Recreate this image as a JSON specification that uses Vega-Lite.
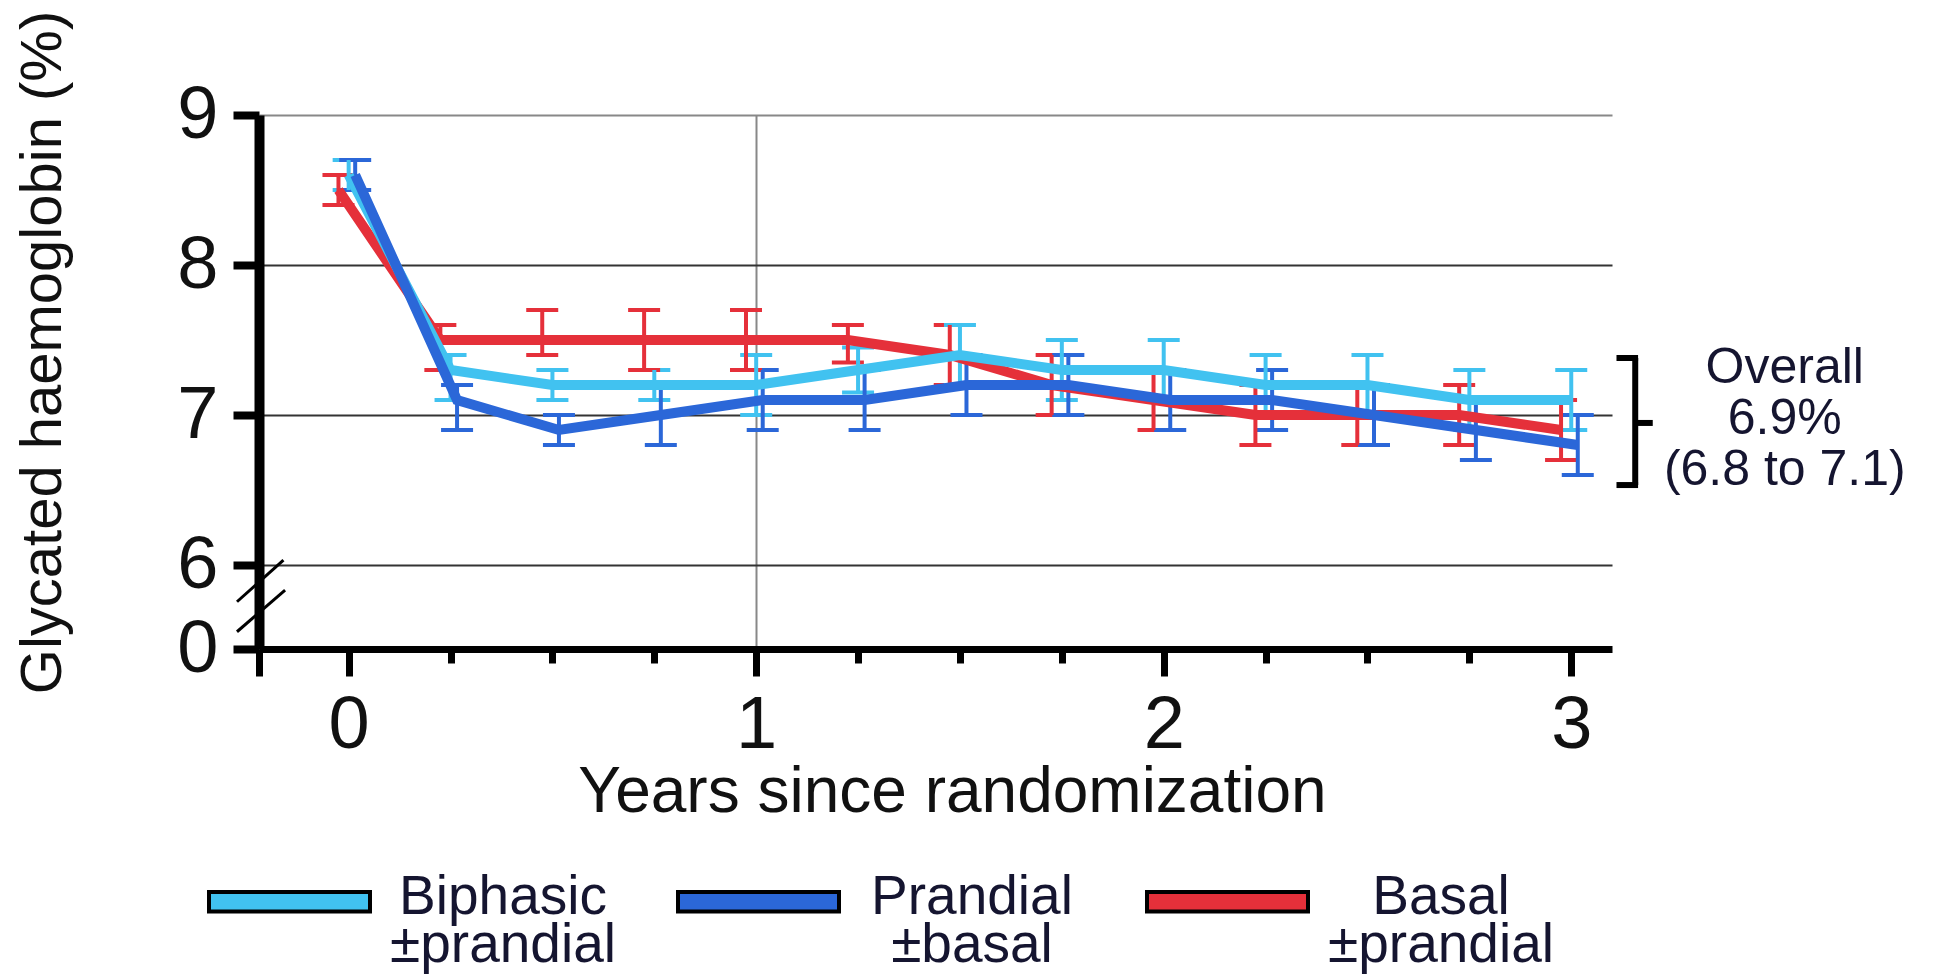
{
  "$schema": "https://vega.github.io/schema/vega-lite/v6.json",
  "autosize": "none",
  "width": 1353,
  "height": 534,
  "padding": {"left": 259, "top": 115, "right": 322, "bottom": 328},
  "background": "white",
  "config": {
    "font": "Liberation Sans",
    "view": {"stroke": null},
    "axis": {"labelColor": "#111", "titleColor": "#111", "titleFontWeight": "normal", "domainColor": "black", "tickColor": "black"}
  },
  "resolve": {"legend": {"color": "independent"}},
  "datasets": {
    "hba1c": [
      {"g": "Basal ±prandial", "t": -0.025, "m": 8.5, "lo": 8.4, "hi": 8.6},
      {"g": "Basal ±prandial", "t": 0.225, "m": 7.5, "lo": 7.3, "hi": 7.6},
      {"g": "Basal ±prandial", "t": 0.475, "m": 7.5, "lo": 7.4, "hi": 7.7},
      {"g": "Basal ±prandial", "t": 0.725, "m": 7.5, "lo": 7.3, "hi": 7.7},
      {"g": "Basal ±prandial", "t": 0.975, "m": 7.5, "lo": 7.3, "hi": 7.7},
      {"g": "Basal ±prandial", "t": 1.225, "m": 7.5, "lo": 7.35, "hi": 7.6},
      {"g": "Basal ±prandial", "t": 1.475, "m": 7.4, "lo": 7.2, "hi": 7.6},
      {"g": "Basal ±prandial", "t": 1.725, "m": 7.2, "lo": 7.0, "hi": 7.4},
      {"g": "Basal ±prandial", "t": 1.975, "m": 7.1, "lo": 6.9, "hi": 7.3},
      {"g": "Basal ±prandial", "t": 2.225, "m": 7.0, "lo": 6.8, "hi": 7.2},
      {"g": "Basal ±prandial", "t": 2.475, "m": 7.0, "lo": 6.8, "hi": 7.2},
      {"g": "Basal ±prandial", "t": 2.725, "m": 7.0, "lo": 6.8, "hi": 7.2},
      {"g": "Basal ±prandial", "t": 2.975, "m": 6.9, "lo": 6.7, "hi": 7.1},
      {"g": "Biphasic ±prandial", "t": 0, "m": 8.6, "lo": 8.5, "hi": 8.7},
      {"g": "Biphasic ±prandial", "t": 0.25, "m": 7.3, "lo": 7.1, "hi": 7.4},
      {"g": "Biphasic ±prandial", "t": 0.5, "m": 7.2, "lo": 7.1, "hi": 7.3},
      {"g": "Biphasic ±prandial", "t": 0.75, "m": 7.2, "lo": 7.1, "hi": 7.3},
      {"g": "Biphasic ±prandial", "t": 1, "m": 7.2, "lo": 7.0, "hi": 7.4},
      {"g": "Biphasic ±prandial", "t": 1.25, "m": 7.3, "lo": 7.15, "hi": 7.45},
      {"g": "Biphasic ±prandial", "t": 1.5, "m": 7.4, "lo": 7.2, "hi": 7.6},
      {"g": "Biphasic ±prandial", "t": 1.75, "m": 7.3, "lo": 7.1, "hi": 7.5},
      {"g": "Biphasic ±prandial", "t": 2, "m": 7.3, "lo": 7.1, "hi": 7.5},
      {"g": "Biphasic ±prandial", "t": 2.25, "m": 7.2, "lo": 7.0, "hi": 7.4},
      {"g": "Biphasic ±prandial", "t": 2.5, "m": 7.2, "lo": 7.0, "hi": 7.4},
      {"g": "Biphasic ±prandial", "t": 2.75, "m": 7.1, "lo": 6.9, "hi": 7.3},
      {"g": "Biphasic ±prandial", "t": 3, "m": 7.1, "lo": 6.9, "hi": 7.3},
      {"g": "Prandial ±basal", "t": 0.016, "m": 8.6, "lo": 8.5, "hi": 8.7},
      {"g": "Prandial ±basal", "t": 0.266, "m": 7.1, "lo": 6.9, "hi": 7.2},
      {"g": "Prandial ±basal", "t": 0.516, "m": 6.9, "lo": 6.8, "hi": 7.0},
      {"g": "Prandial ±basal", "t": 0.766, "m": 7.0, "lo": 6.8, "hi": 7.2},
      {"g": "Prandial ±basal", "t": 1.016, "m": 7.1, "lo": 6.9, "hi": 7.3},
      {"g": "Prandial ±basal", "t": 1.266, "m": 7.1, "lo": 6.9, "hi": 7.3},
      {"g": "Prandial ±basal", "t": 1.516, "m": 7.2, "lo": 7.0, "hi": 7.4},
      {"g": "Prandial ±basal", "t": 1.766, "m": 7.2, "lo": 7.0, "hi": 7.4},
      {"g": "Prandial ±basal", "t": 2.016, "m": 7.1, "lo": 6.9, "hi": 7.3},
      {"g": "Prandial ±basal", "t": 2.266, "m": 7.1, "lo": 6.9, "hi": 7.3},
      {"g": "Prandial ±basal", "t": 2.516, "m": 7.0, "lo": 6.8, "hi": 7.2},
      {"g": "Prandial ±basal", "t": 2.766, "m": 6.9, "lo": 6.7, "hi": 7.1},
      {"g": "Prandial ±basal", "t": 3.016, "m": 6.8, "lo": 6.6, "hi": 7.0}
    ]
  },
  "layer": [
    {
      "data": {"name": "hba1c"},
      "mark": {"type": "tick", "orient": "horizontal", "size": 32, "thickness": 4, "opacity": 1},
      "encoding": {
        "x": {
          "field": "t", "type": "quantitative",
          "scale": {"domain": [-0.22, 3.1], "nice": false, "zero": false},
          "axis": {
            "values": [-0.22, 0, 0.25, 0.5, 0.75, 1, 1.25, 1.5, 1.75, 2, 2.25, 2.5, 2.75, 3],
            "labelExpr": "datum.value >= 0 && datum.value % 1 == 0 ? format(datum.value, 'd') : ''",
            "labelFontSize": 74,
            "labelPadding": 13,
            "labelFlush": false,
            "labelOverlap": false,
            "tickSize": {"condition": {"test": "datum.value % 1 == 0 || datum.value < 0", "value": 27}, "value": 14},
            "tickWidth": 7,
            "domainWidth": 7,
            "grid": true,
            "gridColor": "#888",
            "gridWidth": 2,
            "gridOpacity": {"condition": {"test": "datum.value == 1", "value": 1}, "value": 0},
            "title": "Years since randomization",
            "titleFontSize": 64,
            "titleX": 693,
            "titleY": 162,
            "titleAnchor": "middle",
            "titleAlign": "center",
            "titleBaseline": "alphabetic"
          }
        },
        "y": {
          "field": "hi", "type": "quantitative",
          "scale": {"domain": [5.44, 9], "nice": false, "zero": false},
          "axis": {
            "values": [5.44, 6, 7, 8, 9],
            "labelExpr": "datum.value < 6 ? '0' : format(datum.value, 'd')",
            "labelFontSize": 74,
            "labelPadding": 15,
            "tickSize": 26,
            "tickWidth": 8,
            "domainWidth": 10,
            "grid": true,
            "gridWidth": 2,
            "gridColor": {"condition": {"test": "datum.value == 9", "value": "#888"}, "value": "#333"},
            "gridOpacity": {"condition": {"test": "datum.value < 6", "value": 0}, "value": 1},
            "title": "Glycated haemoglobin (%)",
            "titleFontSize": 58,
            "titleX": -216,
            "titleY": 237,
            "titleAngle": -90,
            "titleAlign": "center",
            "titleBaseline": "middle"
          }
        },
        "color": {
          "field": "g", "type": "nominal",
          "scale": {
            "domain": ["Biphasic ±prandial", "Prandial ±basal", "Basal ±prandial"],
            "range": ["#41c2f0", "#2b67d8", "#e5303a"]
          },
          "legend": {
            "title": null,
            "orient": "none",
            "legendX": -52,
            "legendY": 704,
            "direction": "horizontal",
            "padding": 0,
            "gridAlign": "all",
            "columnPadding": 54,
            "symbolType": "M-1,-0.12H1V0.12H-1Z",
            "symbolSize": 25921,
            "symbolStrokeColor": "black",
            "symbolStrokeWidth": 4,
            "symbolOpacity": 1,
            "labelFontSize": 55,
            "labelColor": "#151530",
            "labelAlign": "center",
            "labelBaseline": "alphabetic",
            "labelOffset": 131,
            "labelLimit": 0,
            "labelExpr": "split(datum.label, ' ')",
            "encode": {
              "labels": {"update": {"dy": {"value": 12}, "lineHeight": {"value": 48}}}
            }
          }
        }
      }
    },
    {
      "data": {"name": "hba1c"},
      "mark": {"type": "tick", "orient": "horizontal", "size": 32, "thickness": 4, "opacity": 1},
      "encoding": {
        "x": {"field": "t", "type": "quantitative"},
        "y": {"field": "lo", "type": "quantitative"},
        "color": {"field": "g", "type": "nominal", "legend": null}
      }
    },
    {
      "data": {"name": "hba1c"},
      "mark": {"type": "rule", "strokeWidth": 4},
      "encoding": {
        "x": {"field": "t", "type": "quantitative"},
        "y": {"field": "lo", "type": "quantitative"},
        "y2": {"field": "hi"},
        "color": {"field": "g", "type": "nominal", "legend": null}
      }
    },
    {
      "data": {"name": "hba1c"},
      "mark": {"type": "line", "strokeWidth": 10, "strokeJoin": "miter"},
      "encoding": {
        "x": {"field": "t", "type": "quantitative"},
        "y": {"field": "m", "type": "quantitative"},
        "color": {"field": "g", "type": "nominal", "legend": null}
      }
    },
    {
      "data": {"values": [{"k": 1}]},
      "mark": {"type": "rule", "strokeWidth": 3, "color": "black"},
      "encoding": {"x": {"datum": -0.274}, "x2": {"datum": -0.16}, "y": {"datum": 5.755}, "y2": {"datum": 6.033}}
    },
    {
      "data": {"values": [{"k": 1}]},
      "mark": {"type": "rule", "strokeWidth": 3, "color": "black"},
      "encoding": {"x": {"datum": -0.274}, "x2": {"datum": -0.156}, "y": {"datum": 5.555}, "y2": {"datum": 5.833}}
    },
    {
      "data": {"values": [{"k": 1}]},
      "mark": {"type": "rule", "strokeWidth": 6, "color": "black"},
      "encoding": {"x": {"datum": 3.157}, "y": {"datum": 7.38}, "y2": {"datum": 6.533}}
    },
    {
      "data": {"values": [{"k": 1}]},
      "mark": {"type": "rule", "strokeWidth": 6, "color": "black"},
      "encoding": {"x": {"datum": 3.111}, "x2": {"datum": 3.164}, "y": {"datum": 7.38}}
    },
    {
      "data": {"values": [{"k": 1}]},
      "mark": {"type": "rule", "strokeWidth": 6, "color": "black"},
      "encoding": {"x": {"datum": 3.111}, "x2": {"datum": 3.164}, "y": {"datum": 6.533}}
    },
    {
      "data": {"values": [{"k": 1}]},
      "mark": {"type": "rule", "strokeWidth": 6, "color": "black"},
      "encoding": {"x": {"datum": 3.157}, "x2": {"datum": 3.2}, "y": {"datum": 6.947}}
    },
    {
      "data": {"values": [{"k": 1}]},
      "mark": {"type": "text", "fontSize": 50, "lineHeight": 51, "align": "center", "baseline": "alphabetic", "color": "#151530"},
      "encoding": {"x": {"datum": 3.524}, "y": {"datum": 7.213}, "text": {"value": ["Overall", "6.9%", "(6.8 to 7.1)"]}}
    }
  ]
}
